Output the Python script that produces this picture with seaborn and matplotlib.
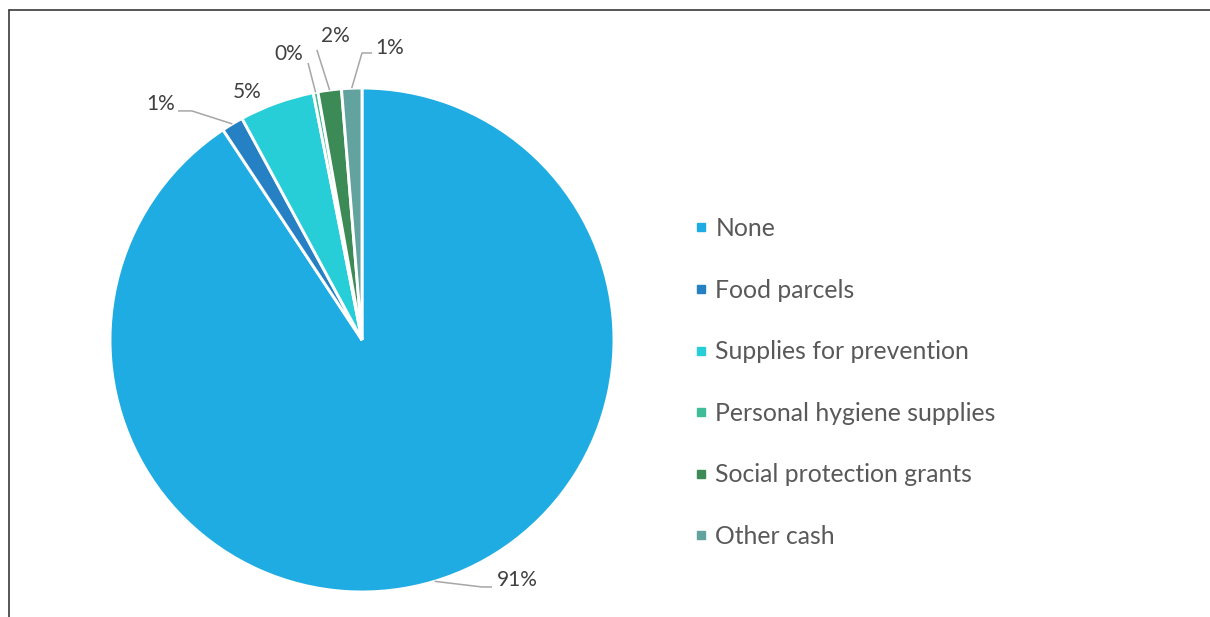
import matplotlib
matplotlib.use("Agg")
import matplotlib.pyplot as plt
from matplotlib.lines import Line2D
import numpy as np
import seaborn as sns

# Share of households by type of support received (%)
categories = ["None", "Food parcels", "Supplies for prevention",
              "Personal hygiene supplies", "Social protection grants", "Other cash"]
shares = [90.7, 1.4, 4.8, 0.3, 1.5, 1.3]
colors = ["#1FACE3", "#2581C4", "#27CED7", "#40BC98", "#3C8A55", "#62A39F"]

sns.set_theme(style="white")
plt.rcParams["font.family"] = ["Lato", "DejaVu Sans"]

W, H = 1210, 617
fig = plt.figure(figsize=(W / 100, H / 100), dpi=100)
fig.patch.set_facecolor("white")

# pie axes: centre and radius in pixels
cx, cy, R = 362, 340, 252
ax = fig.add_axes([(cx - R) / W, (H - cy - R) / H, 2 * R / W, 2 * R / H])
wedges, _ = ax.pie(shares, colors=colors, startangle=90, counterclock=False,
                   radius=1, wedgeprops=dict(edgecolor="white", linewidth=2.1))
ax.set_xlim(-1, 1)
ax.set_ylim(-1, 1)
ax.set_aspect("equal")
ax.axis("off")

# label placement (radius units): text anchor, alignment, leader-line bends
label_layout = [
    ((0.536, -0.952), "left", [(0.476, -0.980), (0.516, -0.980)]),
    ((-0.742, 0.937), "right", [(-0.675, 0.909), (-0.730, 0.909)]),
    ((-0.456, 0.984), "center", None),
    ((-0.290, 1.135), "center", [(-0.214, 1.099)]),
    ((-0.107, 1.206), "center", [(-0.179, 1.151)]),
    ((0.111, 1.159), "center", [(0.0, 1.139), (0.040, 1.139)]),
]

for w, v, (txy, ha, bends) in zip(wedges, shares, label_layout):
    mid = np.deg2rad((w.theta1 + w.theta2) / 2)
    edge = (np.cos(mid), np.sin(mid))
    if bends:
        pts = [edge] + bends
        xs, ys = zip(*pts)
        ax.plot(xs, ys, color="#A6A6A6", lw=1.1, clip_on=False, solid_capstyle="butt")
    ax.text(txy[0], txy[1], f"{round(v):.0f}%", ha=ha, va="center",
            fontsize=15, color="#404040", clip_on=False)

# legend with small square keys
handles = [Line2D([], [], marker="s", linestyle="none", markersize=6,
                  markerfacecolor=c, markeredgecolor=c) for c in colors]
fig.legend(handles, categories, loc="center left",
           bbox_to_anchor=(695 / W, 1 - 382.5 / H), frameon=False,
           fontsize=17.8, labelspacing=1.56, handlelength=0.5, handletextpad=0.32,
           borderpad=0, borderaxespad=0, labelcolor="#595959")

# chart frame (top and left edges)
fig.add_artist(Line2D([9 / W, 1], [1 - 10 / H] * 2, transform=fig.transFigure,
                      color="#3A3A3A", lw=1.2))
fig.add_artist(Line2D([9 / W] * 2, [0, 1 - 10 / H], transform=fig.transFigure,
                      color="#3A3A3A", lw=1.2))

fig.savefig("out.png", dpi=100, facecolor="white")
